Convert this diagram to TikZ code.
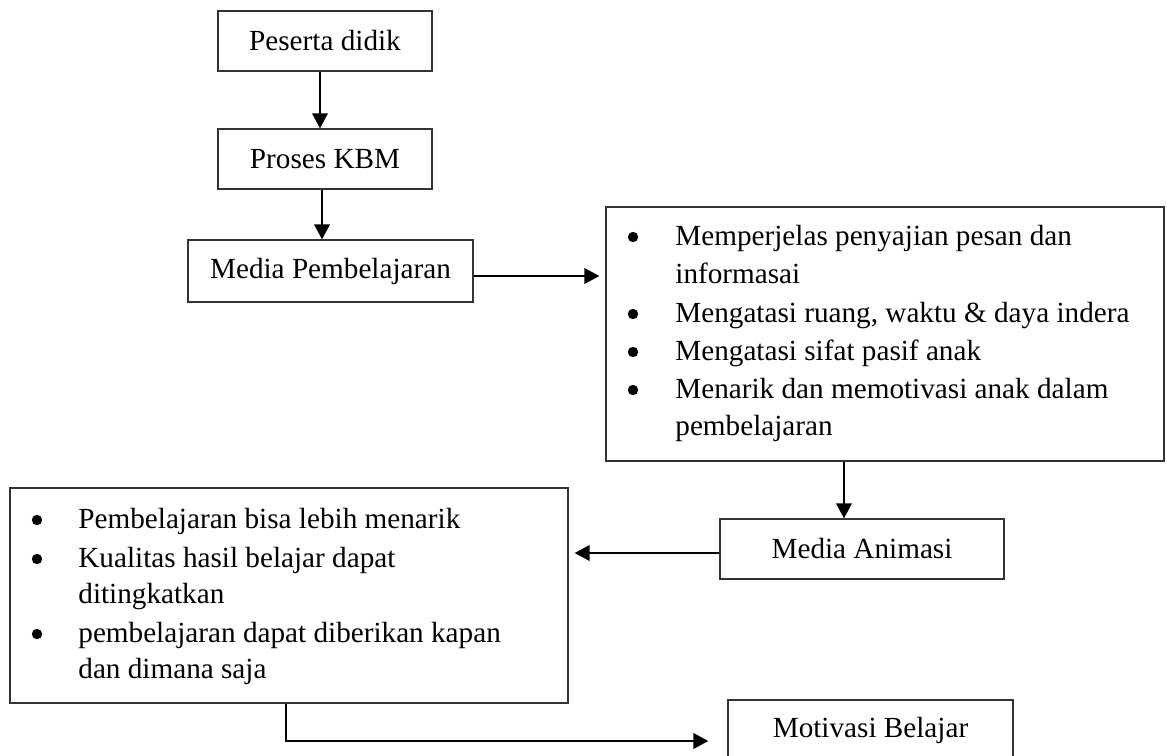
\documentclass[tikz,border=0pt]{standalone}
\usepackage{fontspec}
\setmainfont{Liberation Serif}
\usetikzlibrary{arrows.meta}
\begin{document}
\begin{tikzpicture}[x=0.5pt,y=-0.5pt,
  fnt/.style={font=\fontsize{14.6}{19}\selectfont},
  box/.style={fnt, draw=black!80, line width=0.65pt, rectangle, inner sep=0pt},
  txt/.style={fnt, inner sep=0pt, anchor=base west},
  bul/.style={circle, fill=black, inner sep=0pt, minimum size=5.2pt},
  arr/.style={line width=1pt, -{Triangle[length=7.5pt,width=7.8pt]}},
]
\clip (0,0) rectangle (1167,755);
\fill[white] (0,0) rectangle (1167,755);

% single-line boxes
\node[box, minimum width=107pt, minimum height=30pt] (pd) at (325,41) {Peserta didik};
\node[box, minimum width=107pt, minimum height=30pt] (pk) at (325,159) {Proses KBM};
\node[box, minimum width=142.5pt, minimum height=31pt] (mp) at (330.5,271) {Media Pembelajaran};
\node[box, minimum width=142pt, minimum height=30pt] (ma) at (862,549) {Media Animasi};
\node[box, minimum width=142.5pt, minimum height=30pt] (mb) at (870.5,730) {Motivasi Belajar};

% right bullet box
\node[box, minimum width=279pt, minimum height=127pt] (rb) at (885,334) {};
\node[bul] (rb1b) at (633,237) {};
\node[txt] (rb1)  at (675,245) {Memperjelas penyajian pesan dan};
\node[txt] (rb1c) at (675,283) {informasai};
\node[bul] (rb2b) at (633,314) {};
\node[txt] (rb2)  at (675,322) {Mengatasi ruang, waktu \& daya indera};
\node[bul] (rb3b) at (633,352) {};
\node[txt] (rb3)  at (675,360) {Mengatasi sifat pasif anak};
\node[bul] (rb4b) at (633,390) {};
\node[txt] (rb4)  at (675,398) {Menarik dan memotivasi anak dalam};
\node[txt] (rb4c) at (675,435) {pembelajaran};

% left bullet box
\node[box, minimum width=279pt, minimum height=107.5pt] (lb) at (289,595.5) {};
\node[bul] (lb1b) at (37,520) {};
\node[txt] (lb1)  at (78,528) {Pembelajaran bisa lebih menarik};
\node[bul] (lb2b) at (37,559) {};
\node[txt] (lb2)  at (78,567) {Kualitas hasil belajar dapat};
\node[txt] (lb2c) at (78,603) {ditingkatkan};
\node[bul] (lb3b) at (37,634) {};
\node[txt] (lb3)  at (78,642) {pembelajaran dapat diberikan kapan};
\node[txt] (lb3c) at (78,678) {dan dimana saja};

% connectors
\coordinate (a1s) at ([xshift=-2.5pt]pd.south);
\draw[arr] (a1s) -- (a1s |- pk.north);
\coordinate (a2s) at ([xshift=-1.5pt]pk.south);
\draw[arr] (a2s) -- (a2s |- mp.north);
\coordinate (a3s) at ([yshift=-2.5pt]mp.east);
\draw[arr, shorten >=3pt] (a3s) -- (a3s -| rb.west);
\coordinate (a4e) at ([xshift=-9pt]ma.north);
\draw[arr] (a4e |- rb.south) -- (a4e);
\coordinate (a5s) at ([yshift=-2pt]ma.west);
\draw[arr, shorten >=3pt] (a5s) -- (a5s -| lb.east);
\coordinate (a6s) at ([xshift=-1.5pt]lb.south);
\coordinate (a6c) at ([yshift=-5.5pt]mb.west);
\draw[arr, shorten >=9.5pt] (a6s) |- (a6c);
\end{tikzpicture}
\end{document}
